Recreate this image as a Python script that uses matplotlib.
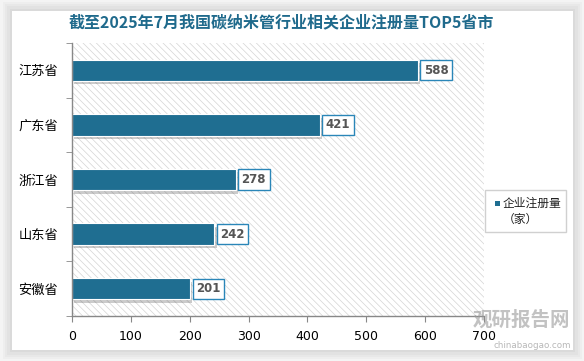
import matplotlib.pyplot as plt
import matplotlib.patheffects as pe
from matplotlib.patches import Rectangle

plt.rcParams['font.family'] = ['Noto Sans CJK SC', 'DejaVu Sans']
plt.rcParams['hatch.linewidth'] = 0.5

# 数据
provincias = ['江苏省', '广东省', '浙江省', '山东省', '安徽省']
valores = [588, 421, 278, 242, 201]
xticks = [0, 100, 200, 300, 400, 500, 600, 700]
titulo = '截至2025年7月我国碳纳米管行业相关企业注册量TOP5省市'
leyenda = '企业注册量\n（家）'

azul = '#1f6e91'

fig = plt.figure(figsize=(5.84, 3.61), dpi=100)
fig.patch.set_facecolor('#f4f4f4')

# tarjeta blanca con sombra
for i, a in enumerate([0.05, 0.05, 0.06, 0.08]):
    d = (4 - i) * 0.004
    fig.patches.append(Rectangle((12/584 - d, 11/361 - d*1.6), 561/584 + 2*d, 339/361 + 2*d*1.6,
                                 transform=fig.transFigure, facecolor='#888888', alpha=a,
                                 edgecolor='none', zorder=0))
fig.patches.append(Rectangle((12/584, 11/361), 561/584, 339/361, transform=fig.transFigure,
                             facecolor='white', edgecolor='none', zorder=1))

ax = fig.add_axes([72/584, 45/361, 412/584, 273/361])
ax.set_zorder(2)
ax.set_facecolor('none')

# fondo rayado
ax.add_patch(Rectangle((0, -0.5), 700, 5, facecolor='white', edgecolor='#d4d4d4',
                       hatch='\\\\\\\\\\', linewidth=0, zorder=0))

y = list(range(len(provincias)))
barras = ax.barh(y, valores, height=0.39, color=azul, zorder=2)
for b in barras:
    b.set_path_effects([pe.SimplePatchShadow(offset=(1.5, -2.5), shadow_rgbFace='#555555', alpha=0.3),
                        pe.Normal()])
    b.set_edgecolor('white')
    b.set_linewidth(0.8)

for yi, v in zip(y, valores):
    ax.text(v + 10, yi, str(v), va='center', ha='left', fontsize=8.5, fontweight='bold',
            color='#555555', family=['DejaVu Sans'], zorder=4,
            bbox=dict(boxstyle='square,pad=0.3', facecolor='white', edgecolor='#2a86b8', linewidth=1))

ax.set_xlim(0, 700)
ax.set_ylim(4.5, -0.5)
ax.set_xticks(xticks)
ax.set_xticklabels([str(t) for t in xticks], fontsize=9, family=['DejaVu Sans'])
ax.set_yticks(y)
ax.set_yticklabels(provincias, fontsize=9.5)
ax.set_yticks([-0.5, 0.5, 1.5, 2.5, 3.5, 4.5], minor=True)
ax.tick_params(axis='y', which='major', length=0, pad=10)
ax.tick_params(axis='y', which='minor', length=4, color='#888888')
ax.tick_params(axis='x', length=4, color='#888888', pad=6)
for s in ['top', 'right']:
    ax.spines[s].set_visible(False)
for s in ['left', 'bottom']:
    ax.spines[s].set_color('#888888')
    ax.spines[s].set_linewidth(1)

fig.text(0.5 * (72 + 484) / 584 + 0.005, 1 - 22/361, titulo, ha='center', va='center',
         fontsize=11.5, fontweight='bold', color='#1f6a8c')

# leyenda
fig.patches.append(Rectangle((485/584, 1 - 232/361), 81/584, 42/361, transform=fig.transFigure,
                             facecolor='white', edgecolor='#d0d0d0', linewidth=1, zorder=3))
fig.patches.append(Rectangle((495/584, 1 - 206/361), 5/584, 5/361, transform=fig.transFigure,
                             facecolor=azul, edgecolor='none', zorder=4))
fig.text(503/584, 1 - 211/361, leyenda, ha='left', va='center', fontsize=8.5,
         color='#222222', zorder=5, linespacing=1.3)

# marca de agua
fig.text(570/584, 1 - 320/361, '观研报告网', ha='right', va='center', fontsize=14,
         fontweight='bold', color='#9a9a9a', alpha=0.6, zorder=5)
fig.text(571/584, 1 - 346/361, 'chinabaogao.com', ha='right', va='center', fontsize=6.3,
         color='#9a9a9a', alpha=0.7, zorder=5, family=['DejaVu Sans'])

fig.savefig('out.png', dpi=100)
